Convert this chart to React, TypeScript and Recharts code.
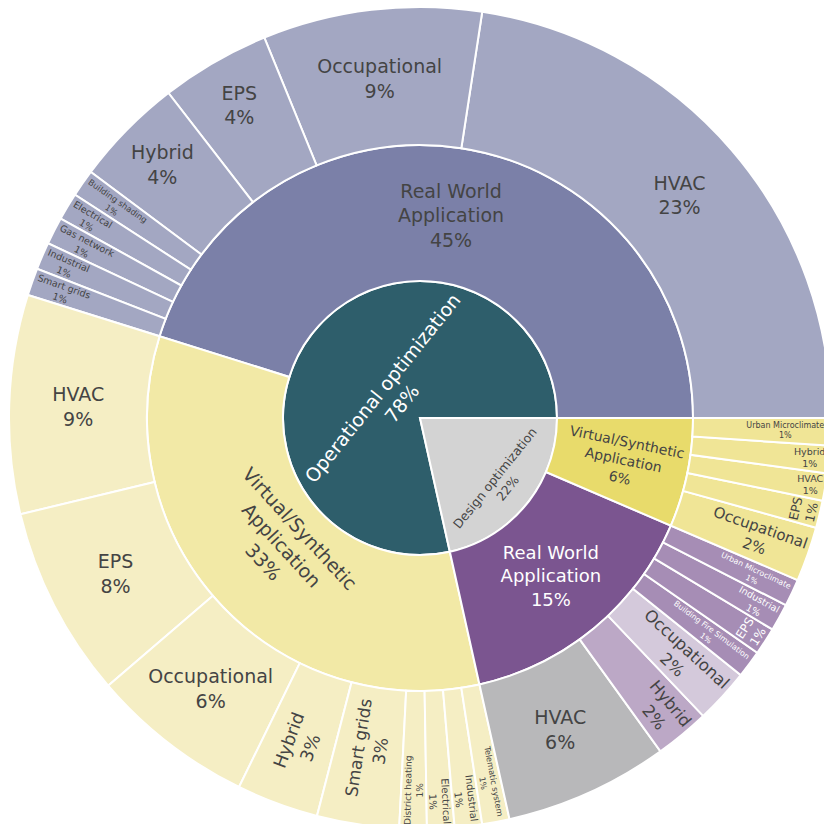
import React from 'react';
import { PieChart, Pie, Cell } from 'recharts';

const TOTAL = 93;

const rootLabels = ['Operational optimization', 'Design optimization'];
const rootValues = [73, 20];

const branchIds = ['opReal', 'opVirtual', 'desReal', 'desVirtual'];
const branchLabels = [
  'Real World Application',
  'Virtual/Synthetic Application',
  'Real World Application',
  'Virtual/Synthetic Application',
];
const branchValues = [42, 31, 14, 6];

const opRealLabels = ['HVAC', 'Occupational', 'EPS', 'Hybrid', 'Building shading', 'Electrical', 'Gas network', 'Industrial', 'Smart grids'];
const opRealValues = [21, 8, 4, 4, 1, 1, 1, 1, 1];

const opVirtualLabels = ['HVAC', 'EPS', 'Occupational', 'Hybrid', 'Smart grids', 'District heating', 'Electrical', 'Industrial', 'Telematic system'];
const opVirtualValues = [8, 7, 6, 3, 3, 1, 1, 1, 1];

const desRealLabels = ['HVAC', 'Hybrid', 'Occupational', 'Building Fire Simulation', 'EPS', 'Industrial', 'Urban Microclimate'];
const desRealValues = [6, 2, 2, 1, 1, 1, 1];

const desVirtualLabels = ['Occupational', 'EPS', 'HVAC', 'Hybrid', 'Urban Microclimate'];
const desVirtualValues = [2, 1, 1, 1, 1];

// colours
const rootColors = ['#2E5E6B', '#D3D3D3'];
const branchColors = ['#7B80A8', '#F2E9A6', '#7B5590', '#E8DB6B'];
const leafBaseColors = ['#A3A7C2', '#F5EEC4', '#A68DB5', '#F0E596'];
const desRealLeafColors: Record<string, string> = {
  HVAC: '#B8B8BA',
  Hybrid: '#BCA8C6',
  Occupational: '#D4C9DB',
};

type LS = { o: 'h' | 'r' | 't'; fs: number; f?: number; light?: boolean };
const labelStyles: Record<string, LS> = {
  'root|Operational optimization': { o: 't', fs: 19, f: 0.26, light: true },
  'root|Design optimization': { o: 't', fs: 12.5, f: 0.76 },
  opReal: { o: 'h', fs: 19 },
  opVirtual: { o: 't', fs: 19, f: 0.375 },
  desReal: { o: 'h', fs: 18, light: true },
  desVirtual: { o: 'r', fs: 14, f: 0.52 },
  'opReal|HVAC': { o: 'h', fs: 19 },
  'opReal|Occupational': { o: 'h', fs: 19 },
  'opReal|EPS': { o: 'h', fs: 19, f: 0.64 },
  'opReal|Hybrid': { o: 'h', fs: 19, f: 0.64 },
  'opReal|Building shading': { o: 'r', fs: 8.4 },
  'opReal|Electrical': { o: 'r', fs: 9.5 },
  'opReal|Gas network': { o: 'r', fs: 9.5 },
  'opReal|Industrial': { o: 'r', fs: 9.5 },
  'opReal|Smart grids': { o: 'r', fs: 9.5 },
  'opVirtual|HVAC': { o: 'h', fs: 19 },
  'opVirtual|EPS': { o: 'h', fs: 19 },
  'opVirtual|Occupational': { o: 'h', fs: 19 },
  'opVirtual|Hybrid': { o: 'r', fs: 17.5, f: 0.54 },
  'opVirtual|Smart grids': { o: 'r', fs: 17, f: 0.45 },
  'opVirtual|District heating': { o: 'r', fs: 9 },
  'opVirtual|Electrical': { o: 'r', fs: 10 },
  'opVirtual|Industrial': { o: 'r', fs: 10 },
  'opVirtual|Telematic system': { o: 'r', fs: 8.2 },
  'desReal|HVAC': { o: 'h', fs: 19 },
  'desReal|Hybrid': { o: 'r', fs: 16.5 },
  'desReal|Occupational': { o: 'r', fs: 16.5 },
  'desReal|Building Fire Simulation': { o: 'r', fs: 7.8, light: true },
  'desReal|EPS': { o: 't', fs: 12, f: 0.88, light: true },
  'desReal|Industrial': { o: 'r', fs: 9.5, light: true },
  'desReal|Urban Microclimate': { o: 'r', fs: 7.8, light: true },
  'desVirtual|Occupational': { o: 'r', fs: 15 },
  'desVirtual|EPS': { o: 't', fs: 12.5, f: 0.88 },
  'desVirtual|HVAC': { o: 'h', fs: 9.5, f: 0.89 },
  'desVirtual|Hybrid': { o: 'h', fs: 9.5, f: 0.86 },
  'desVirtual|Urban Microclimate': { o: 'h', fs: 8, f: 0.67 },
};

const rootData = rootLabels.map((l, i) => ({
  nodeId: `root|${l}`,
  name: l,
  lines: [l],
  value: rootValues[i],
  color: rootColors[i],
}));

const branchData = branchLabels.map((l, i) => {
  const k = l.lastIndexOf(' ');
  return {
    nodeId: branchIds[i],
    name: l,
    lines: [l.slice(0, k), l.slice(k + 1)],
    value: branchValues[i],
    color: branchColors[i],
  };
});

const leafGroups = [
  [opRealLabels, opRealValues],
  [opVirtualLabels, opVirtualValues],
  [desRealLabels, desRealValues],
  [desVirtualLabels, desVirtualValues],
] as [string[], number[]][];

const leafData = leafGroups.flatMap(([labels, values], g) =>
  labels.map((l, i) => ({
    nodeId: `${branchIds[g]}|${l}`,
    name: l,
    lines: [l],
    value: values[i],
    color: g === 2 && desRealLeafColors[l] ? desRealLeafColors[l] : leafBaseColors[g],
  }))
);

// approximate DejaVu Sans advance widths (em)
const CW: Record<string, number> = {
  a: 0.613, b: 0.635, c: 0.55, d: 0.635, e: 0.615, f: 0.352, g: 0.635, h: 0.634, i: 0.278, j: 0.278,
  k: 0.579, l: 0.278, m: 0.974, n: 0.634, o: 0.612, p: 0.635, q: 0.635, r: 0.411, s: 0.521, t: 0.392,
  u: 0.634, v: 0.592, w: 0.818, x: 0.592, y: 0.592, z: 0.525,
  A: 0.684, B: 0.686, C: 0.698, D: 0.77, E: 0.632, F: 0.575, G: 0.775, H: 0.752, I: 0.295, M: 0.863,
  O: 0.787, P: 0.603, R: 0.695, S: 0.635, T: 0.611, U: 0.732, V: 0.684, W: 0.989,
  ' ': 0.318, '/': 0.337, '%': 0.95,
};
const textWidth = (s: string, fs: number) =>
  s.split('').reduce((acc, ch) => acc + (CW[ch] ?? (/[0-9]/.test(ch) ? 0.636 : 0.62)), 0) * fs;

const RAD = Math.PI / 180;
const norm = (a: number) => {
  let x = (((a % 360) + 540) % 360) - 180;
  if (x > 90) x -= 180;
  if (x < -90) x += 180;
  return x;
};

const FONT = "'DejaVu Sans', Verdana, sans-serif";

const renderLabel = (props: any) => {
  const { cx, cy, midAngle, innerRadius, outerRadius } = props;
  const d = props.payload && props.payload.nodeId ? props.payload : props;
  const st = labelStyles[d.nodeId];
  if (!st) return null;
  const pct = Math.round((d.value / TOTAL) * 100);
  const lines: string[] = [...d.lines, `${pct}%`];
  const lh = st.fs * 1.3;
  const depth = outerRadius - innerRadius;
  let r: number;
  if (st.f != null) r = innerRadius + st.f * depth;
  else if (st.o === 'r') {
    const len = Math.max(...lines.map((l) => textWidth(l, st.fs)));
    r = outerRadius - len / 2 - 4;
  } else r = innerRadius + depth / 2;
  const x = cx + r * Math.cos(-midAngle * RAD);
  const y = cy + r * Math.sin(-midAngle * RAD);
  const rot = st.o === 'r' ? norm(-midAngle) : st.o === 't' ? norm(90 - midAngle) : 0;
  return (
    <text
      key={d.nodeId}
      x={x}
      y={y}
      transform={`rotate(${rot} ${x} ${y})`}
      textAnchor="middle"
      fontSize={st.fs}
      fontFamily={FONT}
      fill={st.light ? '#ffffff' : '#444444'}
    >
      {lines.map((l, i) => (
        <tspan key={i} x={x} y={y + (i - (lines.length - 1) / 2) * lh + st.fs * 0.36}>
          {l}
        </tspan>
      ))}
    </text>
  );
};

const CX = 420;
const CY = 418;
const R1 = 137;
const R2 = 273;
const R3 = 411;

export default function App() {
  return (
    <div style={{ position: 'absolute', left: 0, top: 0, width: 824, height: 824, background: '#fff', overflow: 'hidden' }}>
      <PieChart width={824} height={824} margin={{ top: 0, right: 0, bottom: 0, left: 0 }}>
        <Pie
          data={rootData}
          dataKey="value"
          nameKey="name"
          cx={CX}
          cy={CY}
          innerRadius={0}
          outerRadius={R1}
          startAngle={0}
          endAngle={360}
          stroke="#ffffff"
          strokeWidth={2}
          label={renderLabel}
          labelLine={false}
          isAnimationActive={false}
        >
          {rootData.map((d) => (
            <Cell key={d.nodeId} fill={d.color} />
          ))}
        </Pie>
        <Pie
          data={branchData}
          dataKey="value"
          nameKey="name"
          cx={CX}
          cy={CY}
          innerRadius={R1}
          outerRadius={R2}
          startAngle={0}
          endAngle={360}
          stroke="#ffffff"
          strokeWidth={2}
          label={renderLabel}
          labelLine={false}
          isAnimationActive={false}
        >
          {branchData.map((d) => (
            <Cell key={d.nodeId} fill={d.color} />
          ))}
        </Pie>
        <Pie
          data={leafData}
          dataKey="value"
          nameKey="name"
          cx={CX}
          cy={CY}
          innerRadius={R2}
          outerRadius={R3}
          startAngle={0}
          endAngle={360}
          stroke="#ffffff"
          strokeWidth={2}
          label={renderLabel}
          labelLine={false}
          isAnimationActive={false}
        >
          {leafData.map((d) => (
            <Cell key={d.nodeId} fill={d.color} />
          ))}
        </Pie>
      </PieChart>
    </div>
  );
}
